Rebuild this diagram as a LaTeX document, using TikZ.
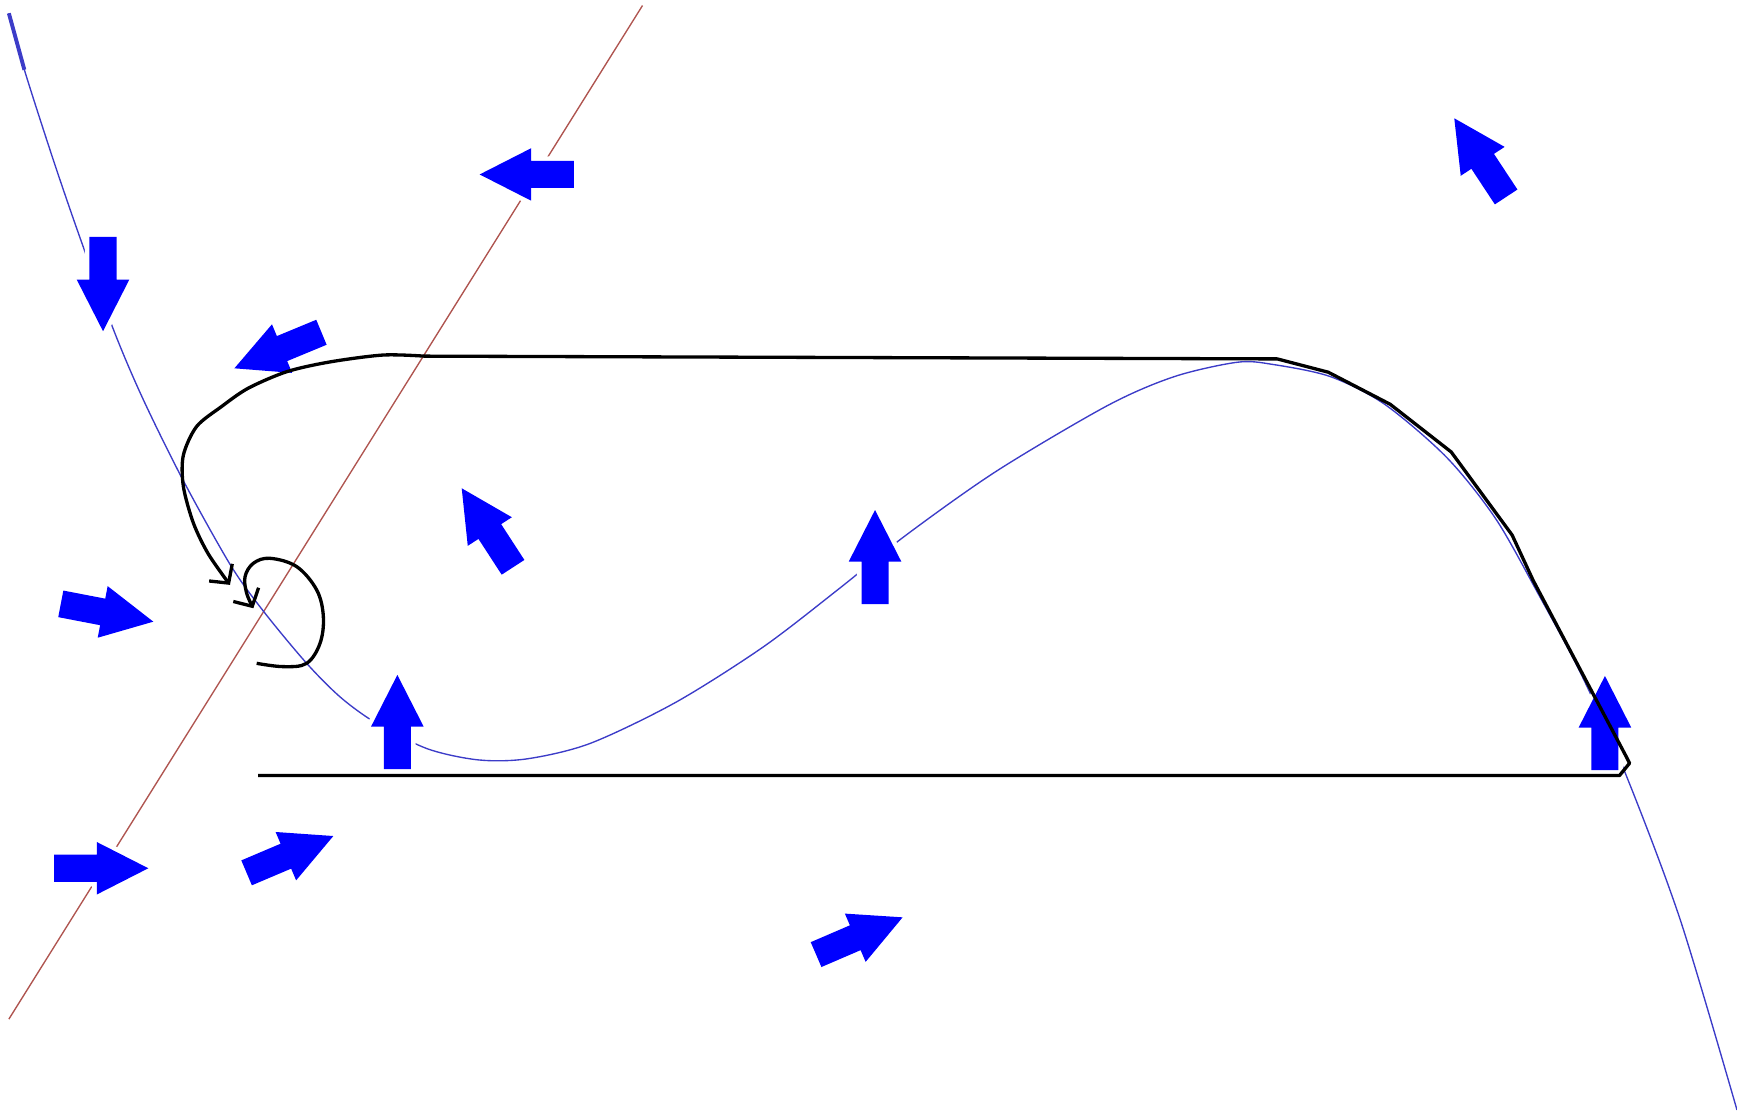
\documentclass[tikz,border=0pt]{standalone}
\usepackage{tikz}
\usetikzlibrary{arrows.meta,shapes.arrows}
\definecolor{orbitblue}{RGB}{60,60,200}
\definecolor{sepred}{RGB}{175,85,80}

\begin{document}
\begin{tikzpicture}[
  x=0.01cm, y=-0.01cm,
  flow/.style={single arrow, fill=blue, anchor=tip, outer sep=0pt,
               inner xsep=0pt, inner ysep=0.115cm,
               single arrow head extend=0.115cm, single arrow tip angle=54,
               minimum height=0.85cm, minimum width=0.46cm,
               preaction={draw=white, line width=2.4pt}},
  orbit/.style={orbitblue, line width=0.35pt},
  sep/.style={sepred, line width=0.35pt},
  traj/.style={line width=0.85pt, line join=round,
               -{Straight Barb[length=1.2mm, width=2.6mm]}}
]
\useasboundingbox (0,0) rectangle (1568,1004);

% separatrix and the long orbit
\draw[sep] (580,5) -- (8,920);
\draw[orbit] plot[smooth, tension=0.5] coordinates {
  (8,12) (22,63) (48,144) (72,214) (103,299) (129,360) (165,433)
  (208,510) (238,552) (277,599) (308,630) (340,653) (386,676)
  (432,686) (476,685) (533,671) (610,634) (689,584) (758,531)
  (818,483) (900,425) (1000,366) (1060,340) (1117,327)
  (1149,329) (1201,340) (1250,365) (1306,413) (1350,468) (1388,535)
  (1428,610) (1468,700) (1517,831) (1568,1002)};
\draw[orbitblue, line width=1pt] (8,12) -- (22,63);

% direction field
\node[flow, rotate=-90]   (f1)  at (93,299)       {};
\node[flow, rotate=180]   (f2)  at (433,157.5)    {};
\node[flow, rotate=202.5] (f3)  at (211.6,332.5)  {};
\node[flow, rotate=123.4] (f4)  at (1312.8,106.8) {};
\node[flow, rotate=123]   (f5)  at (416.8,440.8)  {};
\node[flow, rotate=90]    (f6)  at (789.9,460.4)  {};
\node[flow, rotate=90]    (f7)  at (358.7,609.3)  {};
\node[flow, rotate=90]    (f8)  at (1448.8,610.2) {};
\node[flow, rotate=-10.9] (f9)  at (138.4,561.2)  {};
\node[flow, rotate=0]     (f10) at (133.9,783.8)  {};
\node[flow, rotate=23]    (f11) at (300.9,754.7)  {};
\node[flow, rotate=23.3]  (f12) at (814.8,828.1)  {};

% trajectory round the box, then the small loop
\draw[traj] (233,700) -- (1462,700) -- (1471,689) -- (1468,683)
  -- (1384,524) -- (1365,483) -- (1310,408) -- (1255,365) -- (1199,336)
  -- (1153,324) -- plot[smooth, tension=0.5] coordinates {
  (383,321.5) (346,320.5) (298,326.7) (259,335.5) (224,350.5) (200,367)
  (177.5,385) (165.5,411) (165.5,439) (174.5,472) (188,500) (207.6,528)};
\draw[traj] plot[smooth, tension=0.6] coordinates {
  (231.7,598.8) (255.8,601.8) (276.8,598.8) (288.9,580.7) (291.9,556.7)
  (285.9,532.6) (267.8,511.5) (243.7,504) (228.7,508.5) (221.2,520.6)
  (222.7,535.6) (228.7,549.1)};
\end{tikzpicture}
\end{document}
